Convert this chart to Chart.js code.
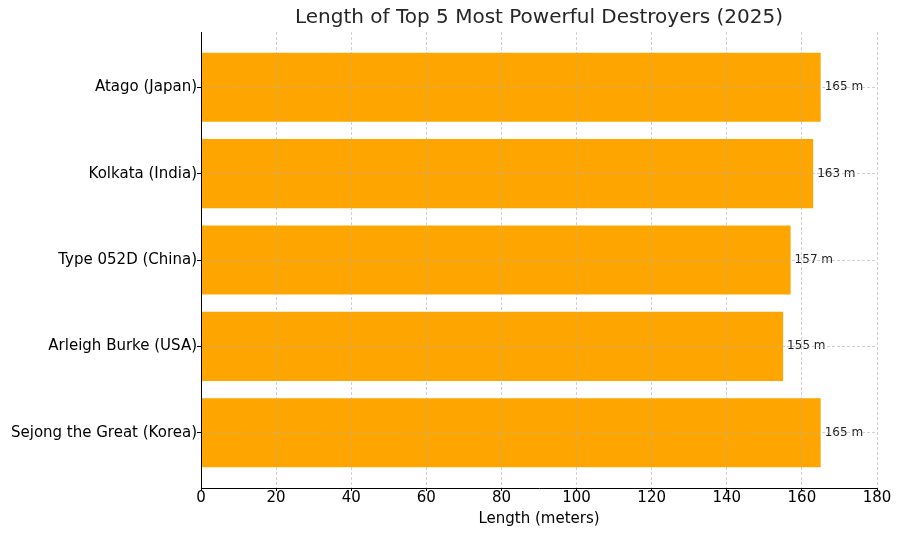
<!DOCTYPE html>
<html>
<head>
<meta charset="utf-8">
<script src="https://cdn.jsdelivr.net/npm/chart.js@4"></script>
<style>
  html, body { margin: 0; padding: 0; background: #fff; }
  #wrap { width: 900px; height: 536px; }
</style>
</head>
<body>
<div id="wrap"><canvas id="destroyers"></canvas></div>
<script>
// data, top to bottom as shown
var ships = [
  "Atago (Japan)",
  "Kolkata (India)",
  "Type 052D (China)",
  "Arleigh Burke (USA)",
  "Sejong the Great (Korea)",
];
var lengths = [165, 163, 157, 155, 165]; // meters
var xTicks = [0, 20, 40, 60, 80, 100, 120, 140, 160, 180];

var FONT = "'DejaVu Sans', sans-serif";

// "165 m" text at the end of each bar
var valueLabels = {
  id: "valueLabels",
  afterDatasetsDraw: function (chart) {
    var ctx = chart.ctx;
    var meta = chart.getDatasetMeta(0);
    ctx.save();
    ctx.font = "12px " + FONT;
    ctx.fillStyle = "#222";
    ctx.textAlign = "left";
    ctx.textBaseline = "middle";
    meta.data.forEach(function (bar, i) {
      ctx.fillText(lengths[i] + " m", bar.x + 4, bar.y);
    });
    ctx.restore();
  },
};

var ctx = document.getElementById("destroyers").getContext("2d");

var chart = new Chart(ctx, {
  type: "bar",
  data: {
    datasets: [
      {
        label: "Length",
        data: lengths.map(function (v, i) { return { x: v, y: i }; }),
        backgroundColor: "#FFA500",
        borderWidth: 0,
        barPercentage: 0.8,
        categoryPercentage: 1.0,
      },
    ],
  },
  options: {
    indexAxis: "y",
    responsive: true,
    maintainAspectRatio: false,
    animation: false,
    layout: { padding: { left: 0, right: 23, top: 0, bottom: 8 } },
    plugins: {
      legend: { display: false },
      tooltip: { enabled: false },
      title: {
        display: true,
        text: "Length of Top 5 Most Powerful Destroyers (2025)",
        color: "#262626",
        font: { family: FONT, size: 20, weight: "normal" },
        padding: { top: 6, bottom: 2 },
        fullSize: false,
      },
    },
    scales: {
      x: {
        type: "linear",
        min: 0,
        max: 180,
        afterBuildTicks: function (scale) {
          scale.ticks = xTicks.map(function (v) { return { value: v }; });
        },
        ticks: {
          color: "#000",
          font: { family: FONT, size: 15 },
          padding: -2,
        },
        grid: {
          z: 1,
          color: "rgba(176,176,176,0.6)",
          tickColor: "#000",
          tickLength: 3,
        },
        // dash is for the grid lines; z keeps the axis line after the grid
        border: { display: true, color: "#000", width: 1, dash: [3, 2], z: 2 },
        title: {
          display: true,
          text: "Length (meters)",
          color: "#000",
          font: { family: FONT, size: 15 },
          padding: { top: 4, bottom: 0 },
        },
        afterFit: function (scale) { scale.height = 40; },
      },
      y: {
        type: "linear",
        reverse: true,
        offset: false,
        min: -0.64,
        max: 4.64,
        afterBuildTicks: function (scale) {
          scale.ticks = ships.map(function (s, i) { return { value: i }; });
        },
        ticks: {
          color: "#000",
          font: { family: FONT, size: 15 },
          padding: 0,
          callback: function (v) { return ships[v]; },
        },
        grid: {
          z: 1,
          offset: false,
          color: "rgba(176,176,176,0.6)",
          tickColor: "#000",
          tickLength: 4,
        },
        border: { display: true, color: "#000", width: 1, dash: [3, 2], z: 2 },
        afterFit: function (scale) { scale.width = 201; },
      },
    },
  },
  plugins: [valueLabels],
});
</script>
</body>
</html>
